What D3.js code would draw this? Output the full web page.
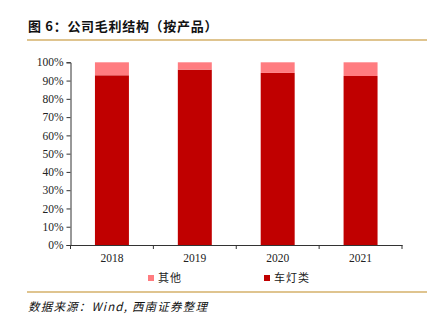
<!DOCTYPE html>
<html><head><meta charset="utf-8">
<script src="https://cdn.jsdelivr.net/npm/d3@7"></script>
<style>body{margin:0;background:#fff}</style>
</head><body>
<script>
const years = ["2018","2019","2020","2021"];
const lamps = [0.929, 0.960, 0.942, 0.925];
const others = [0.071, 0.040, 0.058, 0.075];
const yTicks = [0,0.1,0.2,0.3,0.4,0.5,0.6,0.7,0.8,0.9,1.0];
const seriesNames = ["其他","车灯类"];
const colors = {"其他":"#FF7C80","车灯类":"#C00000"};

const W=432,H=324;
const svg=d3.select("body").append("svg").attr("width",W).attr("height",H);
const cjk="'Noto Sans CJK SC', sans-serif";
const serif="'Liberation Serif','DejaVu Serif',serif";

svg.append("text").attr("x",28).attr("y",31).attr("font-family",cjk).attr("font-weight","bold")
  .attr("font-size",13).attr("letter-spacing",0.7).attr("fill","#111").text("图 6：公司毛利结构（按产品）");
svg.append("line").attr("x1",27).attr("x2",427).attr("y1",40).attr("y2",40).attr("stroke","#D4B06A").attr("stroke-width",1.5);
svg.append("line").attr("x1",27).attr("x2",427).attr("y1",292).attr("y2",292).attr("stroke","#D4B06A").attr("stroke-width",1.5);
svg.append("text").attr("x",28).attr("y",311).attr("font-family",cjk).attr("font-style","italic")
  .attr("font-size",11.5).attr("letter-spacing",1.2).attr("fill","#111").text("数据来源：Wind, 西南证券整理");

const x=d3.scaleBand().domain(years).range([70.5,402]).paddingInner(0.59).paddingOuter(0.295);
const y=d3.scaleLinear().domain([0,1]).range([245,62.3]);

const g=svg.append("g");
years.forEach((yr,i)=>{
  g.append("rect").attr("x",x(yr)).attr("width",x.bandwidth()).attr("y",y(lamps[i])).attr("height",y(0)-y(lamps[i])).attr("fill",colors["车灯类"]);
  g.append("rect").attr("x",x(yr)).attr("width",x.bandwidth()).attr("y",y(lamps[i]+others[i])).attr("height",y(lamps[i])-y(lamps[i]+others[i])).attr("fill",colors["其他"]);
});

const ya=svg.append("g").attr("transform","translate(70.5,0)")
  .call(d3.axisLeft(y).tickValues(yTicks).tickFormat(d3.format(".0%")).tickSizeOuter(0).tickSize(4));
ya.selectAll("text").attr("font-family",serif).attr("font-size",11.5).attr("fill","#222").attr("x",-7);
ya.selectAll("line,path").attr("stroke","#333");

const xa=svg.append("g").attr("transform","translate(0,245)")
  .call(d3.axisBottom(x).tickSize(0).tickSizeOuter(0));
xa.selectAll("text").attr("font-family",serif).attr("font-size",11.5).attr("fill","#222").attr("dy","1.2em");
xa.select("path").attr("stroke","#333");
const bounds=[70.5].concat(years.map(yr=>x(yr)+x.bandwidth()+x.step()*x.paddingInner()/2));
bounds[4]=402;
xa.selectAll(".bt").data(bounds).enter().append("line").attr("x1",d=>d).attr("x2",d=>d).attr("y1",0).attr("y2",4).attr("stroke","#333");

const leg=[{n:"其他",x:148},{n:"车灯类",x:264}];
leg.forEach(l=>{
  svg.append("rect").attr("x",l.x).attr("y",275).attr("width",6).attr("height",6).attr("fill",colors[l.n]);
  svg.append("text").attr("x",l.x+10).attr("y",282).attr("font-family",cjk).attr("font-size",11).attr("letter-spacing",1).attr("fill","#222").text(l.n);
});
</script>
</body></html>
